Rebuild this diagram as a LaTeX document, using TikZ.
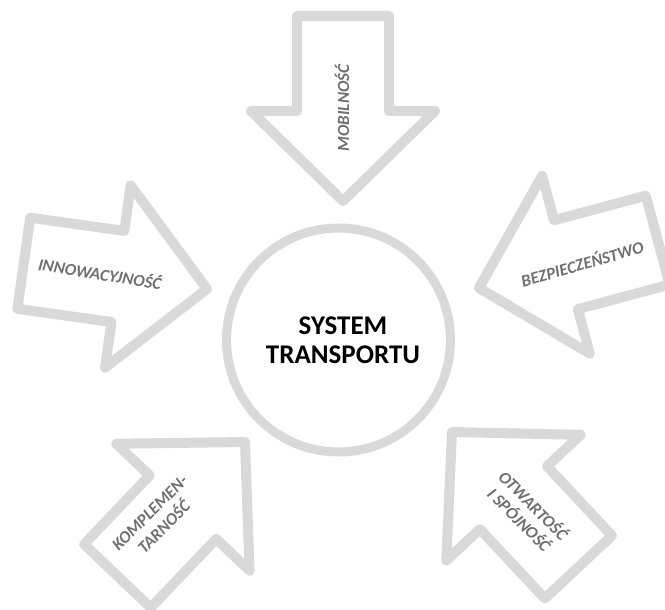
\documentclass[tikz,border=0pt]{standalone}
\usepackage{fontspec}
\setmainfont{Carlito}
\definecolor{arrowgray}{RGB}{217,217,217}
\definecolor{labelgray}{RGB}{112,112,112}
\tikzset{
  blockarrow/.style={draw=arrowgray, line width=10pt, line join=round, fill=white},
  lbl/.style={font=\fontsize{17}{20}\selectfont\bfseries\itshape, text=labelgray, align=center, inner sep=0pt},
  hub/.style={circle, draw=arrowgray, line width=9pt, minimum size=224pt, inner sep=0pt},
  hubtext/.style={font=\fontsize{27}{29}\selectfont\bfseries, text=black, align=center, inner sep=0pt}
}
\newcommand\blockarr[3]{%
  \begin{scope}[shift={(#1,#2)}, rotate=#3]
    \draw[blockarrow] (0,0) -- (-90,92) -- (-90,46) -- (-185,46) -- (-185,-46) -- (-90,-46) -- (-90,-92) -- cycle;
  \end{scope}}
\begin{document}
\begin{tikzpicture}[x=1pt,y=-1pt]
  \useasboundingbox (0,0) rectangle (665,610);
  \blockarr{343}{201}{-90}
  \blockarr{207}{289}{-8}
  \blockarr{479}{288}{195}
  \blockarr{245}{442}{46.4}
  \blockarr{452}{432}{133.1}
  \node[hub] (sys) at (338.5,340) {};
  \node[hubtext] (systxt) at (343,340) {SYSTEM\\TRANSPORTU};
  \node[lbl, rotate=90] (mob) at (342,108) {MOBILNOŚĆ};
  \node[lbl, rotate=-9] (inn) at (100,273) {INNOWACYJNOŚĆ};
  \node[lbl, rotate=16] (bez) at (582,263) {BEZPIECZEŃSTWO};
  \node[lbl, rotate=45] (kom) at (157,520) {KOMPLEMEN-\\TARNOŚĆ};
  \node[lbl, rotate=-45] (otw) at (527,512) {OTWARTOŚĆ\\I SPÓJNOŚĆ};
\end{tikzpicture}
\end{document}
